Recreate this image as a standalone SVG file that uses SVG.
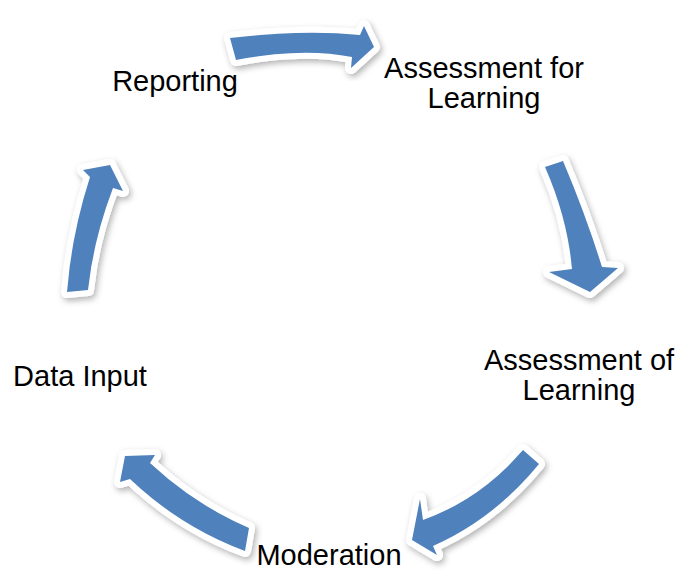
<svg xmlns="http://www.w3.org/2000/svg" width="678" height="576" viewBox="0 0 678 576">
<defs>
<filter id="sh" x="-30%" y="-30%" width="160%" height="160%">
<feDropShadow dx="2" dy="3" stdDeviation="3" flood-color="#000" flood-opacity="0.3"/>
</filter>
<style>
.lbl{font-family:"Liberation Sans",Arial,sans-serif;font-size:29px;fill:#000;text-anchor:middle}
.arr{fill:#4F81BD;stroke:#fff;stroke-width:12;stroke-linejoin:round;paint-order:stroke;filter:url(#sh)}
</style>
</defs>
<rect width="678" height="576" fill="#fff"/>
<g id="connectors">
<path id="arrow-top" class="arr" d="M230,38 Q302,29.5 360,35 L364,26 L374,47 L351,68 L352,57 Q302,47 236,60 Z"/>
<path id="arrow-right" class="arr" d="M545,167 L563,161 Q585.5,214 602,267 L618,268 L590,292 L549,272 L572,269 Q567.5,218 545,167 Z"/>
<path id="arrow-bottom-right" class="arr" d="M523,450 L539,464 Q494,519 433,546 L437,555 L412,540 L420,499 L423,520 Q481,499 523,450 Z"/>
<path id="arrow-bottom-left" class="arr" d="M125,456 L155,455 L150,463 Q194.5,504.5 249,528 L245,551 Q180.5,527 130,479 L120,482 Z"/>
<path id="arrow-left" class="arr" d="M110,165 L123,191 L113,188 Q93.5,239 88,290 L67,292 Q71.5,234.5 90,177 L83,170 Z"/>
</g>
<g id="node-reporting"><text class="lbl" x="175" y="91">Reporting</text></g>
<g id="node-afl"><text class="lbl" x="484" y="78">Assessment for</text><text class="lbl" x="484" y="108">Learning</text></g>
<g id="node-aol"><text class="lbl" x="579" y="370">Assessment of</text><text class="lbl" x="579" y="400">Learning</text></g>
<g id="node-moderation"><text class="lbl" x="329" y="565">Moderation</text></g>
<g id="node-data-input"><text class="lbl" x="80" y="386">Data Input</text></g>
</svg>
